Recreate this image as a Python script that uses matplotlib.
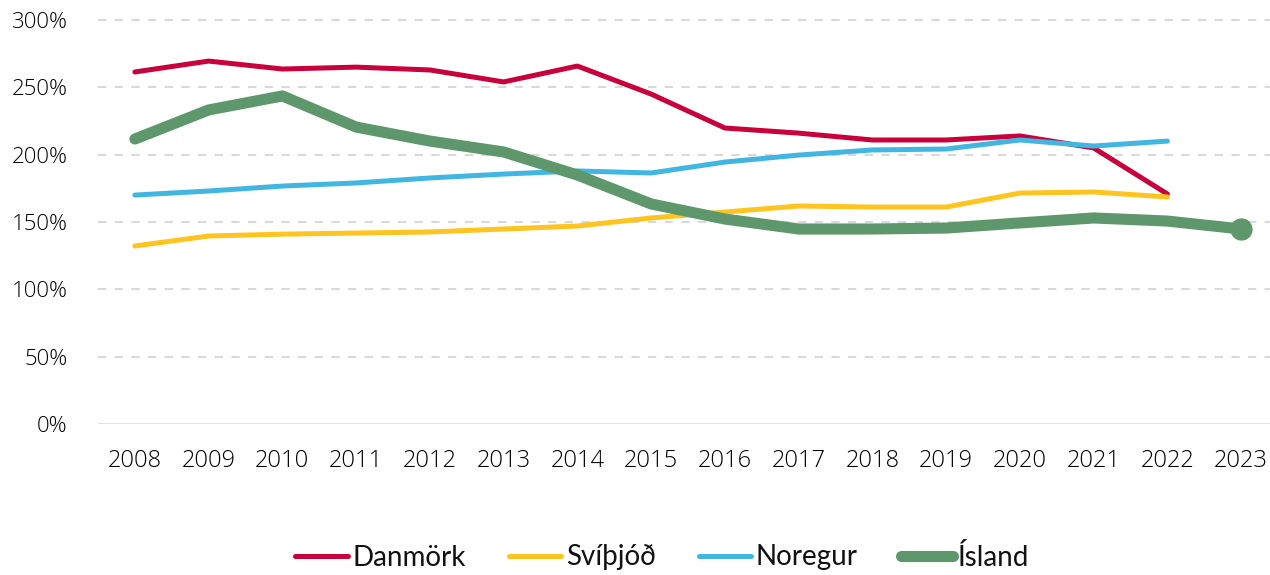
import matplotlib
matplotlib.use("Agg")
import matplotlib.pyplot as plt
from matplotlib.ticker import FuncFormatter

years = list(range(2008, 2024))
year_labels = [str(y) for y in years]

danmork = [261.4, 269.5, 263.6, 265.0, 262.9, 254.0, 265.8, 245.0, 219.8, 216.0, 210.9, 210.9, 213.9, 205.0, 170.8]
svithjod = [132.2, 139.6, 141.0, 141.8, 142.6, 144.8, 147.0, 153.0, 157.4, 161.9, 161.1, 161.1, 171.5, 172.3, 168.6]
noregur = [170.0, 173.0, 176.7, 179.0, 182.7, 185.6, 187.9, 186.4, 194.5, 199.7, 203.5, 204.2, 210.9, 206.4, 210.1]
island = [211.6, 233.2, 243.6, 220.5, 210.1, 202.0, 184.9, 163.4, 152.2, 144.8, 144.8, 145.5, 149.3, 153.0, 150.7, 144.8]

series_names = ["Danmörk", "Svíþjóð", "Noregur", "Ísland"]
colors = ["#C8003C", "#FFC41F", "#41B6E0", "#5E976B"]

fig = plt.figure(figsize=(12.70, 5.75), dpi=100)
W, H = 1270, 575
left_px, right_px = 98, 1278
bottom_px, top_px = 424, 20
ymax = 300
ax = fig.add_axes([left_px / W, (H - bottom_px) / H, (right_px - left_px) / W, (bottom_px - top_px) / H])
ax.set_xlim(-0.5, len(years) - 0.5)
ax.set_ylim(0, ymax)

x_all = list(range(len(years)))
ax.plot(x_all[:len(danmork)], danmork, color=colors[0], lw=3.6, solid_capstyle="round", solid_joinstyle="round", label=series_names[0], zorder=3)
ax.plot(x_all[:len(svithjod)], svithjod, color=colors[1], lw=3.6, solid_capstyle="round", solid_joinstyle="round", label=series_names[1], zorder=3)
ax.plot(x_all[:len(noregur)], noregur, color=colors[2], lw=3.6, solid_capstyle="round", solid_joinstyle="round", label=series_names[2], zorder=3)
ax.plot(x_all[:len(island)], island, color=colors[3], lw=8, solid_capstyle="round", solid_joinstyle="round", label=series_names[3], zorder=4)
ax.plot([x_all[len(island) - 1]], [island[-1]], "o", color=colors[3], ms=15, zorder=5, clip_on=False)

for v in [50, 100, 150, 200, 250, 300]:
    ax.axhline(v, color="#D9D9D9", lw=1.5, ls=(0, (4, 4)), zorder=1, clip_on=False)
ax.axhline(0, color="#D9D9D9", lw=1.8, zorder=1)

for s in ax.spines.values():
    s.set_visible(False)

ax.set_xticks(x_all)
ax.set_xticklabels(year_labels, fontsize=17, family="Open Sans", fontweight="light", color="#000000")
ax.set_yticks([0, 50, 100, 150, 200, 250, 300])
ax.yaxis.set_major_formatter(FuncFormatter(lambda v, p: f"{int(v)}%"))
for lab in ax.get_yticklabels():
    lab.set_fontsize(16)
    lab.set_family("Open Sans")
    lab.set_fontweight("light")
    lab.set_color("#000000")
ax.tick_params(axis="both", length=0)
ax.tick_params(axis="x", pad=18)
ax.tick_params(axis="y", pad=22)

leg = fig.legend(loc="center", bbox_to_anchor=(662 / W, 1 - 557 / H), ncol=4, frameon=False,
                 prop={"family": "Lato", "size": 20}, handlelength=1.9, handletextpad=0.15,
                 columnspacing=1.55)
for t in leg.get_texts():
    t.set_color("#111111")

fig.savefig("out.png", dpi=100)
